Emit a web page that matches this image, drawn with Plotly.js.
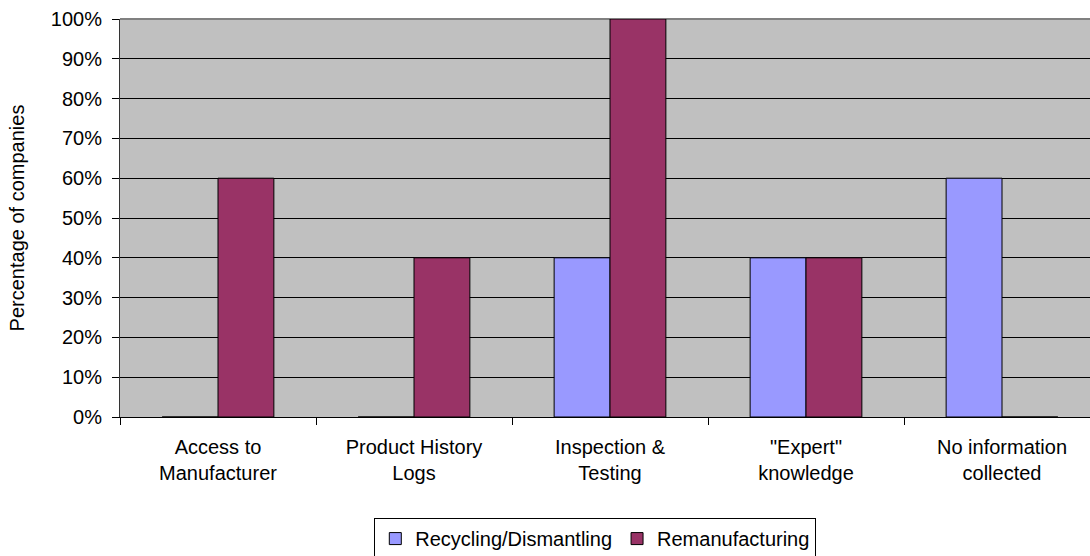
<!DOCTYPE html>
<html>
<head>
<meta charset="utf-8">
<script src="https://cdn.plot.ly/plotly-3.0.1.min.js"></script>
<style>
html,body{margin:0;padding:0;overflow:hidden;background:#fff;}
#chart{width:1100px;height:556px;}
</style>
</head>
<body>
<div id="chart"></div>
<script>
const categories = ["Access to<br>Manufacturer", "Product History<br>Logs", "Inspection &<br>Testing", "\"Expert\"<br>knowledge", "No information<br>collected"];
const recycling = [0, 0, 0.40, 0.40, 0.60];
const remanufacturing = [0.60, 0.40, 1.00, 0.40, 0];
const yTickVals = [0, 0.1, 0.2, 0.3, 0.4, 0.5, 0.6, 0.7, 0.8, 0.9, 1.0];
const yTickText = ["0%", "10%", "20%", "30%", "40%", "50%", "60%", "70%", "80%", "90%", "100%"];
const boundaries = [-0.5, 0.5, 1.5, 2.5, 3.5, 4.5];

const fam = "Arial, 'Liberation Sans', sans-serif";
const font = {family: fam, size: 20, color: "#000"};

const traces = [
  {type: "bar", name: "Recycling/Dismantling", x: categories, y: recycling,
   marker: {color: "#9999FF", line: {color: "#000", width: 1}}},
  {type: "bar", name: "Remanufacturing", x: categories, y: remanufacturing,
   marker: {color: "#993366", line: {color: "#000", width: 1}}}
];

const layout = {
  width: 1100, height: 556,
  margin: {l: 120, r: 0, t: 19, b: 139, autoexpand: false},
  paper_bgcolor: "#fff", plot_bgcolor: "#C0C0C0",
  font: font,
  barmode: "group", bargap: 0.43, bargroupgap: 0,
  showlegend: true,
  legend: {orientation: "h", x: 0.485, xanchor: "center", y: -0.254, yanchor: "top",
    bordercolor: "#000", borderwidth: 1, font: {family: fam, size: 20, color: "#000"},
    itemwidth: 30, tracegroupgap: 0},
  xaxis: {type: "category", showgrid: false, ticks: "", showline: true, linecolor: "#000", linewidth: 1,
    tickfont: {family: fam, size: 20, color: "#000"}, ticklabelstandoff: 12, zeroline: false},
  xaxis2: {overlaying: "x", range: [boundaries[0], boundaries[boundaries.length-1]],
    tickmode: "array", tickvals: boundaries, ticktext: boundaries.map(() => ""), ticks: "outside",
    ticklen: 7, tickcolor: "#000", tickwidth: 1, showgrid: false, showline: false, zeroline: false, side: "bottom"},
  yaxis: {range: [0, 1], tickmode: "array", tickvals: yTickVals, ticktext: yTickText,
    ticks: "outside", ticklen: 7, tickcolor: "#000", showline: true, linecolor: "#333", linewidth: 1,
    gridcolor: "#000", gridwidth: 1, zeroline: false, tickfont: font, ticklabelstandoff: 6,
    title: {text: "Percentage of companies", font: font, standoff: 20}},
  shapes: [{type: "line", xref: "paper", yref: "paper", x0: 0, x1: 1, y0: 1, y1: 1,
    line: {color: "#808080", width: 2}, layer: "between"}]
};

traces.push({type: "scatter", x: [boundaries[0]], y: [0], xaxis: "x2", mode: "markers",
  marker: {opacity: 0}, showlegend: false, hoverinfo: "skip"});

Plotly.newPlot("chart", traces, layout, {displayModeBar: false, staticPlot: true});
</script>
</body>
</html>
